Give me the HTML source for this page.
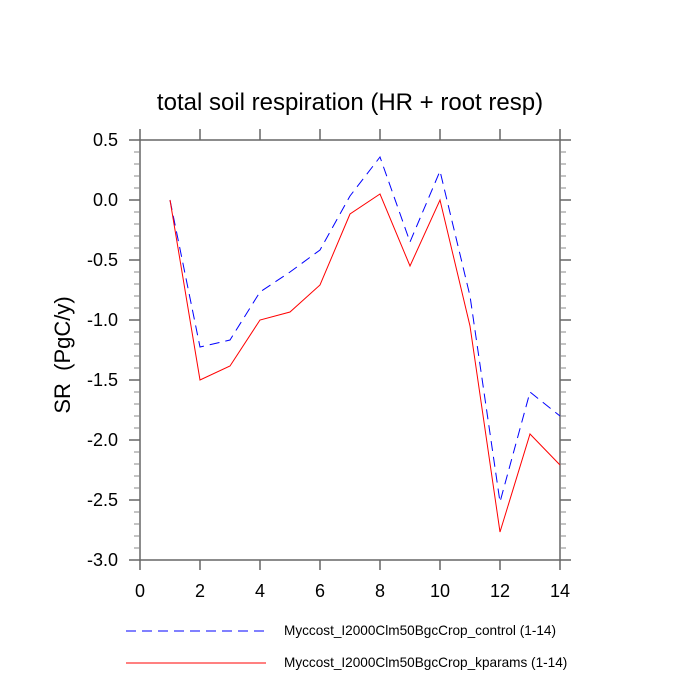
<!DOCTYPE html>
<html><head><style>body{margin:0;background:#fff}svg{display:block}</style></head>
<body>
<svg width="700" height="700" xmlns="http://www.w3.org/2000/svg" font-family="Liberation Sans, sans-serif">
<rect width="700" height="700" fill="#fff"/>
<text x="350" y="110" font-size="24" text-anchor="middle">total soil respiration (HR + root resp)</text>
<g stroke="#666" stroke-width="1.5" fill="none">
<rect x="140" y="140" width="420" height="420"/>
<path d="
M140,140h-11M140,200h-11M140,260h-11M140,320h-11M140,380h-11M140,440h-11M140,500h-11M140,560h-11
M560,140h11M560,200h11M560,260h11M560,320h11M560,380h11M560,440h11M560,500h11M560,560h11
M140,560v10M200,560v10M260,560v10M320,560v10M380,560v10M440,560v10M500,560v10M560,560v10
M140,140v-11M200,140v-11M260,140v-11M320,140v-11M380,140v-11M440,140v-11M500,140v-11M560,140v-11"/>
</g>
<g stroke="#888" stroke-width="1" id="minor"></g>
<script>
var g=document.getElementById('minor'),s='';
for(var y=140;y<=560;y+=12){if((y-140)%60!==0){s+='M140,'+y+'h-6M560,'+y+'h6';}}
var p=document.createElementNS('http://www.w3.org/2000/svg','path');p.setAttribute('d',s);g.appendChild(p);
</script>
<g font-size="18" text-anchor="end">
<text x="118" y="146">0.5</text><text x="118" y="206">0.0</text><text x="118" y="266">-0.5</text><text x="118" y="326">-1.0</text><text x="118" y="386">-1.5</text><text x="118" y="446">-2.0</text><text x="118" y="506">-2.5</text><text x="118" y="566">-3.0</text>
</g>
<g font-size="18" text-anchor="middle">
<text x="140" y="597">0</text><text x="200" y="597">2</text><text x="260" y="597">4</text><text x="320" y="597">6</text><text x="380" y="597">8</text><text x="440" y="597">10</text><text x="500" y="597">12</text><text x="560" y="597">14</text>
</g>
<text transform="translate(70,355) rotate(-90)" font-size="22" text-anchor="middle" xml:space="preserve">SR  (PgC/y)</text>
<polyline fill="none" stroke="#00f" stroke-width="1" stroke-dasharray="10,6" points="170,200 200,347 230,340 260,292 290,272 320,250 350,196 380,157 410,242 440,171 470,296 500,502 530,392 560,416"/>
<polyline fill="none" stroke="#f00" stroke-width="1" points="170,200 200,380 230,366 260,320 290,312 320,285 350,214 380,194 410,266 440,200 470,326 500,532 530,434 560,465"/>
<line x1="126" y1="631" x2="266" y2="631" stroke="#00f" stroke-dasharray="10,6"/>
<line x1="126" y1="663" x2="266" y2="663" stroke="#f00"/>
<text x="284" y="635" font-size="13.6">Myccost_I2000Clm50BgcCrop_control (1-14)</text>
<text x="284" y="667" font-size="13.6">Myccost_I2000Clm50BgcCrop_kparams (1-14)</text>
</svg>
</body></html>
